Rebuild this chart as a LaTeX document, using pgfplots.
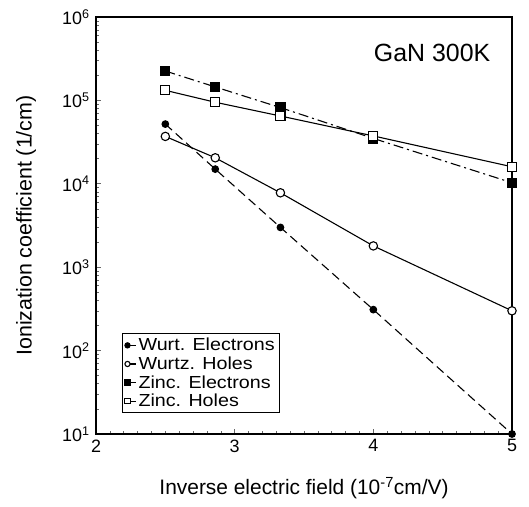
\documentclass[border=0pt]{standalone}
\usepackage{fontspec}
\setmainfont{Liberation Sans}
\newfontfamily\widesans[FakeStretch=1.13]{Liberation Sans}
\usepackage{pgfplots}
\pgfplotsset{compat=1.18}
\begin{document}
\begin{tikzpicture}
\begin{axis}[
  name=ax,
  scale only axis,
  width=416bp, height=417bp,
  ymode=log,
  xmin=2, xmax=5, ymin=10, ymax=1e6,
  xtick={2,3,4,5},
  xticklabels={2,3,4,5},
  minor x tick num=9,
  ytick={10,100,1000,10000,100000,1000000},
  yticklabels={10\textsuperscript{1},10\textsuperscript{2},10\textsuperscript{3},10\textsuperscript{4},10\textsuperscript{5},10\textsuperscript{6}},
  tick pos=left,
  tick align=inside,
  major tick length=5bp, minor tick length=3bp,
  every tick/.style={black!60, line width=0.6pt},
  axis line style={line width=1.2pt},
  tick label style={font=\fontsize{18}{20}\selectfont},
  yticklabel style={xshift=-3bp},
  xticklabel style={yshift=-2bp},
  xlabel={Inverse electric field (10\textsuperscript{-7}cm/V)},
  ylabel={Ionization coefficient (1/cm)},
  every axis x label/.style={at={(rel axis cs:0.5,0)}, yshift=-54bp, anchor=center,
    font=\fontsize{21}{24}\selectfont},
  every axis y label/.style={at={(rel axis cs:0,0.5)}, xshift=-70bp, rotate=90, anchor=center,
    font=\fontsize{21.5}{24}\selectfont},
  legend style={at={(rel axis cs:0.0625,0.05)}, anchor=south west,
    font=\widesans\fontsize{17.5}{18}\selectfont, draw=black, line width=0.8pt,
    row sep=0.5pt, inner sep=2.5pt},
  legend cell align=left,
  legend image code/.code={\draw[mark repeat=2,mark phase=1,solid,#1,mark size=2.6bp] plot coordinates {(0cm,0cm) (0.3cm,0cm)};},
  every axis plot/.append style={line width=1.1pt, black},
]
\addplot[dash pattern=on 9bp off 5bp, mark=*, mark size=3.3bp, mark options={solid, fill=black}] coordinates {
  (2.5,52000) (2.86,15000) (3.33,3000) (4,310) (5,10)
};
\addlegendentry{Wurt. Electrons}
\addplot[solid, mark=*, mark size=4.2bp, mark options={fill=white}] coordinates {
  (2.5,37000) (2.86,20500) (3.33,7800) (4,1800) (5,300)
};
\addlegendentry{Wurtz. Holes}
\addplot[dash pattern=on 10bp off 4bp on 2bp off 4bp, mark=square*, mark size=4.6bp, mark options={solid, fill=black}] coordinates {
  (2.5,225000) (2.86,145000) (3.33,82000) (4,35000) (5,10300)
};
\addlegendentry{Zinc. Electrons}
\addplot[solid, mark=square*, mark size=4.6bp, mark options={fill=white}] coordinates {
  (2.5,132000) (2.86,95000) (3.33,65000) (4,37500) (5,16000)
};
\addlegendentry{Zinc. Holes}
\node[font=\fontsize{25}{28}\selectfont] at (rel axis cs:0.808,0.914) {GaN 300K};
\end{axis}
\pgfresetboundingbox
\path[use as bounding box] ([xshift=-96bp,yshift=-73bp]ax.south west) rectangle ([xshift=17bp,yshift=17bp]ax.north east);
\end{tikzpicture}
\end{document}
